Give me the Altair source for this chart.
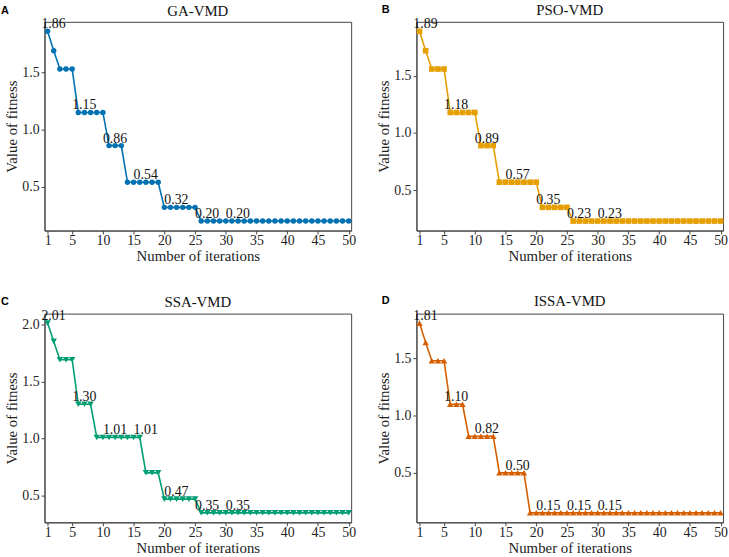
import altair as alt
import pandas as pd

iterations = list(range(1, 51))
x_ticks = [1, 5, 10, 15, 20, 25, 30, 35, 40, 45, 50]
label_iters = [1, 6, 11, 16, 21, 26, 31]

ga_vals = [1.86, 1.69, 1.53, 1.53, 1.53, 1.15, 1.15, 1.15, 1.15, 1.15,
           0.86, 0.86, 0.86, 0.54, 0.54, 0.54, 0.54, 0.54, 0.54, 0.32,
           0.32, 0.32, 0.32, 0.32, 0.32, 0.20, 0.20, 0.20, 0.20, 0.20,
           0.20, 0.20, 0.20, 0.20, 0.20, 0.20, 0.20, 0.20, 0.20, 0.20,
           0.20, 0.20, 0.20, 0.20, 0.20, 0.20, 0.20, 0.20, 0.20, 0.20]
pso_vals = [1.89, 1.72, 1.56, 1.56, 1.56, 1.18, 1.18, 1.18, 1.18, 1.18,
            0.89, 0.89, 0.89, 0.57, 0.57, 0.57, 0.57, 0.57, 0.57, 0.57,
            0.35, 0.35, 0.35, 0.35, 0.35, 0.23, 0.23, 0.23, 0.23, 0.23,
            0.23, 0.23, 0.23, 0.23, 0.23, 0.23, 0.23, 0.23, 0.23, 0.23,
            0.23, 0.23, 0.23, 0.23, 0.23, 0.23, 0.23, 0.23, 0.23, 0.23]
ssa_vals = [2.01, 1.85, 1.69, 1.69, 1.69, 1.30, 1.30, 1.30, 1.01, 1.01,
            1.01, 1.01, 1.01, 1.01, 1.01, 1.01, 0.70, 0.70, 0.70, 0.47,
            0.47, 0.47, 0.47, 0.47, 0.47, 0.35, 0.35, 0.35, 0.35, 0.35,
            0.35, 0.35, 0.35, 0.35, 0.35, 0.35, 0.35, 0.35, 0.35, 0.35,
            0.35, 0.35, 0.35, 0.35, 0.35, 0.35, 0.35, 0.35, 0.35, 0.35]
issa_vals = [1.81, 1.64, 1.48, 1.48, 1.48, 1.10, 1.10, 1.10, 0.82, 0.82,
             0.82, 0.82, 0.82, 0.50, 0.50, 0.50, 0.50, 0.50, 0.15, 0.15,
             0.15, 0.15, 0.15, 0.15, 0.15, 0.15, 0.15, 0.15, 0.15, 0.15,
             0.15, 0.15, 0.15, 0.15, 0.15, 0.15, 0.15, 0.15, 0.15, 0.15,
             0.15, 0.15, 0.15, 0.15, 0.15, 0.15, 0.15, 0.15, 0.15, 0.15]

SERIF = "Liberation Serif"


def panel(name, letter, vals, color, shape, size, yticks, lx, ly):
    df = pd.DataFrame({"it": iterations, "v": vals})
    lo, hi = min(vals), max(vals)
    r = hi - lo
    dom = [lo - 0.05 * r, hi + 0.05 * r]
    x = alt.X("it:Q",
              scale=alt.Scale(domain=[0.5, 50.4], nice=False, zero=False),
              axis=alt.Axis(values=x_ticks, title="Number of iterations",
                            format="d", labelFont=SERIF, titleFont=SERIF,
                            labelFontSize=14, titleFontSize=15,
                            labelPadding=0, titlePadding=1))
    y = alt.Y("v:Q",
              scale=alt.Scale(domain=dom, nice=False, zero=False),
              axis=alt.Axis(values=yticks, format=".1f",
                            title="Value of fitness", labelFont=SERIF,
                            titleFont=SERIF, labelFontSize=14,
                            titleFontSize=15, labelPadding=2,
                            titlePadding=2))
    base = alt.Chart(df)
    line = base.mark_line(color=color, strokeWidth=1.6).encode(x=x, y=y)
    pts = base.mark_point(shape=shape, filled=True, size=size, color=color,
                          opacity=1).encode(x=x, y=y)
    lab = base.transform_filter(
        alt.FieldOneOfPredicate(field="it", oneOf=label_iters)
    ).mark_text(dx=6, dy=-3, baseline="alphabetic", align="center",
                fontSize=14, font=SERIF, color="#111").encode(
        x=x, y=y, text=alt.Text("v:Q", format=".2f"))
    let = alt.Chart(pd.DataFrame({"p": [letter]})).mark_text(
        font="Liberation Sans", fontWeight="bold", fontSize=11,
        align="center", baseline="middle", color="#000"
    ).encode(x=alt.value(lx), y=alt.value(ly), text="p:N")
    return alt.layer(line, pts, lab, let).properties(
        width=310, height=211,
        title=alt.TitleParams(name, font=SERIF, fontSize=15,
                              fontWeight="normal", color="#111", offset=-14))


A = panel("GA-VMD", "A", ga_vals, "#0072B2", "circle", 30, [0.5, 1.0, 1.5], -40, -11)
B = panel("PSO-VMD", "B", pso_vals, "#E69F00", "square", 32, [0.5, 1.0, 1.5], -31, -12)
C = panel("SSA-VMD", "C", ssa_vals, "#009E73", "triangle-down", 42, [0.5, 1.0, 1.5, 2.0], -40, -12)
D = panel("ISSA-VMD", "D", issa_vals, "#D55E00", "triangle-up", 42, [0.5, 1.0, 1.5], -31, -13)

chart = alt.vconcat(
    alt.hconcat(A, B, spacing=19),
    alt.hconcat(C, D, spacing=19),
    spacing=29,
).properties(
    padding={"left": 0, "top": -1, "right": 0, "bottom": 0}
).configure_view(
    stroke="#444", strokeWidth=1
).configure_title(
    font=SERIF, fontWeight="normal", fontSize=15
).configure_axis(
    grid=False, domainColor="#444", tickColor="#444", tickSize=3.5,
    labelFont=SERIF, labelFontSize=14, labelColor="#222",
    titleFont=SERIF, titleFontSize=15, titleFontWeight="normal",
    titleColor="#222"
)

chart.save("out.html", embed_options={"renderer": "svg", "actions": False})
